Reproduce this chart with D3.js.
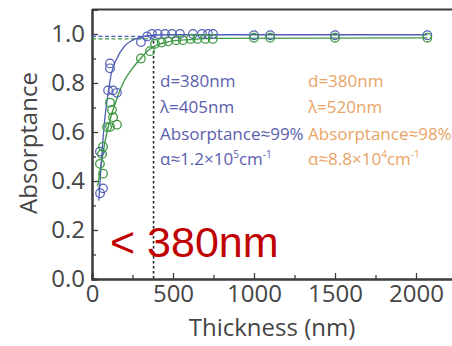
<!DOCTYPE html>
<html>
<head>
<meta charset="utf-8">
<script src="https://cdn.jsdelivr.net/npm/d3@7/dist/d3.min.js"></script>
<style>
  html, body { margin: 0; padding: 0; background: #fff; }
  svg { display: block; }
</style>
</head>
<body>
<svg id="chart" width="452" height="346"></svg>
<script>
// Measured absorptance vs. film thickness at two wavelengths
const blueThickness = [50, 68, 49, 99, 130, 154, 111, 111, 302, 340, 370, 407, 451, 494, 543, 623, 679, 716, 747, 1000, 1100, 1500, 2070];
const blueAbsorb    = [0.35, 0.37, 0.52, 0.77, 0.77, 0.76, 0.86, 0.88, 0.967, 0.99, 1.0, 1.0, 1.0, 1.0, 1.0, 1.0, 1.0, 1.0, 1.0, 0.995, 0.995, 0.995, 0.995];
const greenThickness = [68, 49, 62, 68, 93, 111, 154, 130, 123, 111, 302, 358, 389, 430, 470, 520, 560, 610, 650, 700, 745, 1000, 1100, 1500, 2070];
const greenAbsorb    = [0.43, 0.47, 0.51, 0.54, 0.62, 0.62, 0.63, 0.66, 0.69, 0.72, 0.90, 0.93, 0.96, 0.965, 0.97, 0.975, 0.975, 0.98, 0.98, 0.98, 0.98, 0.985, 0.985, 0.985, 0.985];

// Fitted curves
const blueFitThickness = [42, 60, 80, 100, 120, 150, 200, 250, 300, 350, 400, 500, 2070];
const blueFitAbsorb    = [0.32, 0.50, 0.66, 0.76, 0.84, 0.895, 0.95, 0.975, 0.987, 0.993, 0.996, 0.997, 0.997];
const greenFitThickness = [35, 60, 80, 100, 125, 150, 200, 250, 300, 350, 400, 450, 500, 600, 750, 2070];
const greenFitAbsorb    = [0.38, 0.48, 0.56, 0.62, 0.68, 0.73, 0.81, 0.86, 0.90, 0.935, 0.955, 0.965, 0.972, 0.977, 0.982, 0.984];

// Reference thickness and the absorptance reached there
const refThickness = 380;
const refBlue = 0.99;
const refGreen = 0.98;

const xTicks = [0, 500, 1000, 1500, 2000];
const xMinorTicks = [250, 750, 1250, 1750];
const yTicks = [0.0, 0.2, 0.4, 0.6, 0.8, 1.0];
const yMinorTicks = [0.1, 0.3, 0.5, 0.7, 0.9];

const blueNotes = ["d=380nm", "λ=405nm", "Absorptance≈99%", ["α≈1.2×10", "5", "cm", "-1"]];
const orangeNotes = ["d=380nm", "λ=520nm", "Absorptance≈98%", ["α≈8.8×10", "4", "cm", "-1"]];

const BLUE = "#4f5db3";
const GREEN = "#3f9a45";
const NOTE_BLUE = "#5a5eae";
const NOTE_ORANGE = "#e9a466";
const INK = "#3c3c3c";

const svg = d3.select("#chart");

const x = d3.scaleLinear().domain([0, 2250]).range([92, 456.5]);
const y = d3.scaleLinear().domain([0, 1.1]).range([279, 9.5]);

const FONT = "'Open Sans', 'Noto Sans', sans-serif";

// frame: top edge
svg.append("line")
  .attr("x1", x(0)).attr("x2", x(2250))
  .attr("y1", y(1.1)).attr("y2", y(1.1))
  .attr("stroke", INK).attr("stroke-width", 2);

// axes
const xAxis = d3.axisBottom(x).tickValues(xTicks).tickSize(-6).tickPadding(6).tickFormat(d3.format("d"));
const gx = svg.append("g").attr("transform", `translate(0,${y(0)})`).call(xAxis);
const gxm = svg.append("g").attr("transform", `translate(0,${y(0)})`)
  .call(d3.axisBottom(x).tickValues(xMinorTicks).tickSize(-4).tickFormat(""));

const yAxis = d3.axisLeft(y).tickValues(yTicks).tickSize(-6).tickPadding(7).tickFormat(d3.format(".1f"));
const gy = svg.append("g").attr("transform", `translate(${x(0)},0)`).call(yAxis);
const gym = svg.append("g").attr("transform", `translate(${x(0)},0)`)
  .call(d3.axisLeft(y).tickValues(yMinorTicks).tickSize(-4).tickFormat(""));

[gx, gxm, gy, gym].forEach(g => {
  g.select(".domain").attr("stroke", INK).attr("stroke-width", 2);
  g.selectAll(".tick line").attr("stroke", INK).attr("stroke-width", 1.3);
  g.selectAll(".tick text").attr("fill", "#454545").style("font-family", FONT).style("font-size", "24px");
});

// axis titles
svg.append("text")
  .attr("x", 272).attr("y", 336)
  .attr("text-anchor", "middle")
  .attr("fill", "#454545")
  .style("font-family", FONT).style("font-size", "24px")
  .text("Thickness (nm)");

svg.append("text")
  .attr("transform", "translate(37,143) rotate(-90)")
  .attr("text-anchor", "middle")
  .attr("fill", "#454545")
  .style("font-family", FONT).style("font-size", "24px")
  .text("Absorptance");

// reference guides at d = 380 nm
svg.append("line")
  .attr("x1", x(0)).attr("x2", x(refThickness))
  .attr("y1", y(refBlue)).attr("y2", y(refBlue))
  .attr("stroke", BLUE).attr("stroke-width", 1.2).attr("stroke-dasharray", "4,2.5");
svg.append("line")
  .attr("x1", x(0)).attr("x2", x(refThickness))
  .attr("y1", y(refGreen)).attr("y2", y(refGreen))
  .attr("stroke", GREEN).attr("stroke-width", 1.2).attr("stroke-dasharray", "4,2.5");
svg.append("line")
  .attr("x1", x(refThickness)).attr("x2", x(refThickness))
  .attr("y1", y(refGreen) + 2).attr("y2", y(0))
  .attr("stroke", "#222").attr("stroke-width", 1.6).attr("stroke-dasharray", "2.5,2.5");

// fitted curves
const line = d3.line().x(d => x(d[0])).y(d => y(d[1])).curve(d3.curveMonotoneX);
svg.append("path")
  .datum(d3.zip(greenFitThickness, greenFitAbsorb))
  .attr("d", line).attr("fill", "none").attr("stroke", GREEN).attr("stroke-width", 1.4);
svg.append("path")
  .datum(d3.zip(blueFitThickness, blueFitAbsorb))
  .attr("d", line).attr("fill", "none").attr("stroke", BLUE).attr("stroke-width", 1.3);

// measured points
svg.append("g").selectAll("circle")
  .data(d3.zip(blueThickness, blueAbsorb))
  .join("circle")
  .attr("cx", d => x(d[0])).attr("cy", d => y(d[1])).attr("r", 4.3)
  .attr("fill", "none").attr("stroke", BLUE).attr("stroke-width", 1.2);
svg.append("g").selectAll("circle")
  .data(d3.zip(greenThickness, greenAbsorb))
  .join("circle")
  .attr("cx", d => x(d[0])).attr("cy", d => y(d[1])).attr("r", 4.3)
  .attr("fill", "none").attr("stroke", GREEN).attr("stroke-width", 1.3);

// annotation columns
function notes(items, color, x0) {
  const baselines = [87, 113, 140, 165];
  items.forEach((item, i) => {
    const t = svg.append("text")
      .attr("x", x0).attr("y", baselines[i])
      .attr("fill", color)
      .style("font-family", FONT).style("font-size", "17px");
    if (typeof item === "string") {
      t.text(item);
    } else {
      t.append("tspan").text(item[0]);
      t.append("tspan").attr("dy", -7).style("font-size", "10px").text(item[1]);
      t.append("tspan").attr("dy", 7).text(item[2]);
      t.append("tspan").attr("dy", -7).style("font-size", "10px").text(item[3]);
    }
  });
}
notes(blueNotes, NOTE_BLUE, 160);
notes(orangeNotes, NOTE_ORANGE, 308);

// highlighted threshold
svg.append("text")
  .attr("x", 110).attr("y", 257)
  .attr("fill", "#c00000")
  .style("font-family", "'Liberation Sans', Arial, sans-serif").style("font-size", "43px")
  .text("< 380nm");
</script>
</body>
</html>
